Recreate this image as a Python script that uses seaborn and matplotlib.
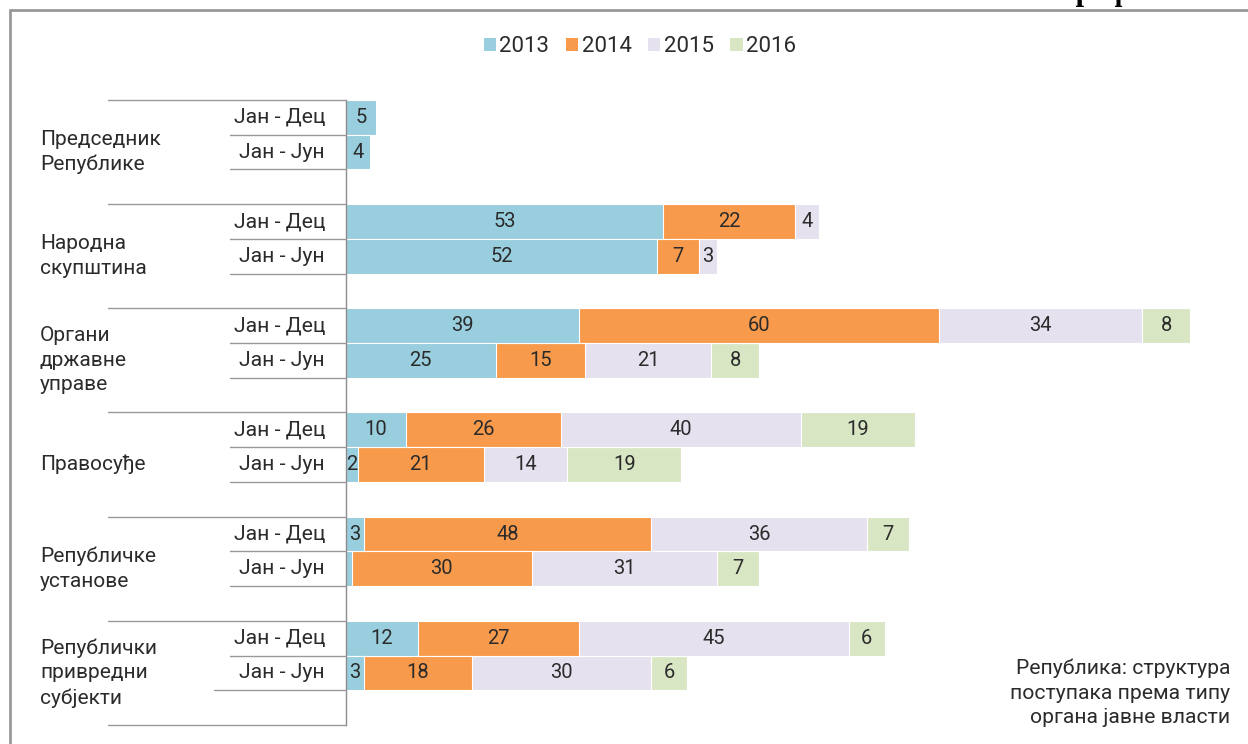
import matplotlib
matplotlib.use("Agg")
import matplotlib.pyplot as plt
import matplotlib.transforms as mtransforms
from matplotlib.lines import Line2D
from matplotlib.patches import Patch
import seaborn as sns
import pandas as pd

# податоци
groups = ["Председник\nРепублике", "Народна\nскупштина", "Органи\nдржавне\nуправе",
          "Правосуђе", "Републичке\nустанове", "Републички\nпривредни\nсубјекти"]
periods = ["Јан - Дец", "Јан - Јун"]
years = ["2013", "2014", "2015", "2016"]
# редослед редова: за сваку групу Дец, па Јун
v2013 = [5, 4, 53, 52, 39, 25, 10, 2, 3, 1, 12, 3]
v2014 = [0, 0, 22, 7, 60, 15, 26, 21, 48, 30, 27, 18]
v2015 = [0, 0, 4, 3, 34, 21, 40, 14, 36, 31, 45, 30]
v2016 = [0, 0, 0, 0, 8, 8, 19, 19, 7, 7, 6, 6]
colors = ["#98CEDE", "#F79A4B", "#E6E1EE", "#D9E6C4"]
note = "Република: структура\nпоступака према типу\nоргана јавне власти"

W, H = 1248, 744
sns.set_style("white")
plt.rcParams['font.family'] = ['Roboto', 'DejaVu Sans']
txt = "#2b2b2b"
gray = "#999999"

fig = plt.figure(figsize=(W / 100, H / 100), dpi=100)
ax = fig.add_axes([346 / W, 19 / H, 902 / W, 625 / H])

# слотови: 3 по групи (Дец, Јун, празно)
slots = []
rows = []
for g in range(len(groups)):
    for p in periods:
        name = f"{g}|{p}"
        slots.append(name)
        rows.append(name)
    slots.append(f"{g}|blank")

values = [v2013, v2014, v2015, v2016]
cum = []
run = [0] * len(rows)
for v in values:
    run = [a + b for a, b in zip(run, v)]
    cum.append(list(run))

# наслагане траке: кумулативне суме, од последње године ка првој
for i in reversed(range(len(years))):
    df = pd.DataFrame({"row": rows, "val": cum[i]})
    sns.barplot(data=df, x="val", y="row", order=slots, orient="h", color=colors[i],
                width=1.0, edgecolor="white", linewidth=0.8, errorbar=None,
                saturation=1, ax=ax)

# вредности у средини сегмената
for i, v in enumerate(values):
    for r, name in enumerate(rows):
        if v[r] >= 2:
            left = cum[i][r] - v[r]
            ax.text(left + v[r] / 2, slots.index(name), str(v[r]), ha="center",
                    va="center", fontsize=14.5, color=txt)

ax.set_xlim(0, 902 / 5.986)
ax.set_ylim(len(slots) - 0.5, -0.5)
ax.set_xticks([])
ax.set_yticks([])
ax.set_xlabel("")
ax.set_ylabel("")
for s in ["top", "right", "bottom"]:
    ax.spines[s].set_visible(False)
ax.spines["left"].set_color("#8c8c8c")
ax.spines["left"].set_linewidth(1)

# ознаке лево од осе
tr = mtransforms.blended_transform_factory(fig.transFigure, ax.transData)
ng = len(groups)
for g in range(ng):
    top = g * 3 - 0.5
    fig.add_artist(Line2D([108 / W, 346 / W], [top, top], transform=tr, color=gray, lw=1))
    for k in range(2):
        y = top + k + 1
        x0 = 214 if (g == ng - 1 and k == 1) else 230
        fig.add_artist(Line2D([x0 / W, 346 / W], [y, y], transform=tr, color=gray, lw=1))
        fig.text(325 / W, top + k + 0.5, periods[k], transform=tr, ha="right",
                 va="center", fontsize=15.3, color=txt)
    fig.text(40 / W, top + 1.5, groups[g], transform=tr, ha="left", va="center",
             fontsize=15, color=txt, linespacing=1.37)
fig.add_artist(Line2D([108 / W, 346 / W], [ng * 3 - 0.5] * 2, transform=tr, color=gray, lw=1))

# легенда
handles = [Patch(facecolor=c, edgecolor="none") for c in colors]
leg = fig.legend(handles, years, loc="center", bbox_to_anchor=(640 / W, 1 - 47 / H),
                 ncol=4, frameon=False, fontsize=16, handlelength=0.55, handleheight=0.55,
                 handletextpad=0.15, columnspacing=0.75)
for t in leg.get_texts():
    t.set_color(txt)

# напомена доле десно
fig.text(1230 / W, 1 - 693 / H, note, ha="right", va="center", fontsize=15.2,
         color=txt, linespacing=1.35, multialignment="right")

# оквир
fig.add_artist(Line2D([10 / W, 1], [1 - 10 / H] * 2, color="#999999", lw=2))
fig.add_artist(Line2D([10 / W] * 2, [0, 1 - 10 / H], color="#999999", lw=2))
fig.text(1058 / W, 1 - 0 / H, "Графикон", ha="left", va="baseline", fontsize=22,
         fontweight="bold", family="Liberation Serif", color="black")

fig.savefig("out.png", dpi=100)
